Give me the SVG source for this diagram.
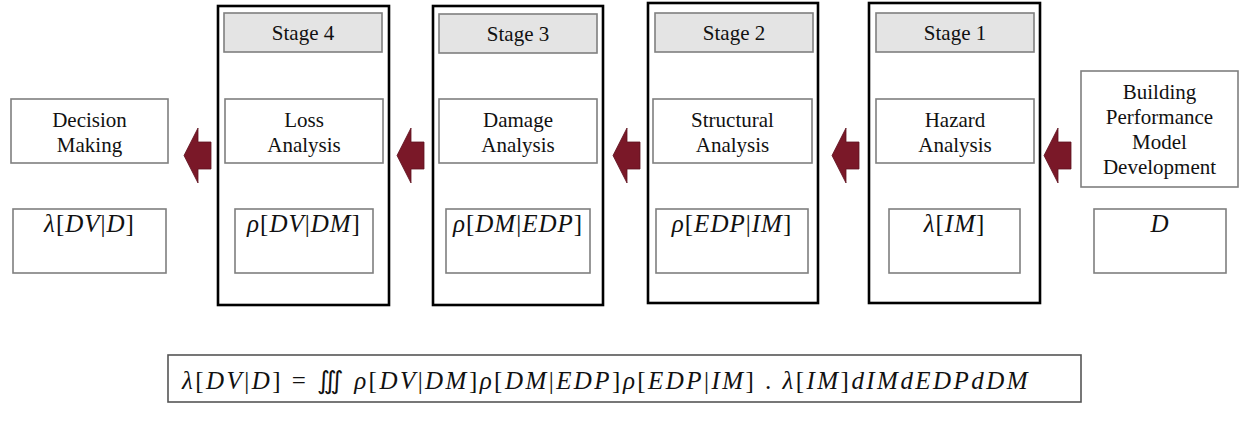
<svg xmlns="http://www.w3.org/2000/svg" width="1239" height="421" viewBox="0 0 1239 421" font-family="Liberation Serif, Times New Roman, serif">
  <style>
    .stage { fill: #ffffff; stroke: #000000; stroke-width: 2.6; }
    .head { fill: #e4e4e4; stroke: #7f7f7f; stroke-width: 1.6; }
    .box { fill: #ffffff; stroke: #7f7f7f; stroke-width: 1.6; }
    .lbl { font-size: 21px; fill: #111111; text-anchor: middle; }
    .math { font-style: italic; font-size: 25px; fill: #111111; text-anchor: middle; letter-spacing: 1px; }
    .eq { font-style: italic; font-size: 25px; fill: #111111; text-anchor: start; letter-spacing: 2.45px; }
    .up { font-style: normal; }
    .arrow { fill: #7a1828; stroke: #5e1120; stroke-width: 0.8; }
  </style>
  <defs>
    <!-- block arrow pointing left, tip at origin -->
    <path id="blockArrow" d="M0,0 L14,-27.5 L14,-13.5 L27,-13.5 L27,13.5 L14,13.5 L14,27.5 Z"/>
  </defs>
  <rect width="1239" height="421" fill="#ffffff"/>

  <!-- Decision making -->
  <g id="decision">
    <rect class="box" x="11" y="99" width="157" height="64"/>
    <text class="lbl" x="89.5" y="127">Decision</text>
    <text class="lbl" x="89.5" y="152">Making</text>
    <rect class="box" x="13" y="209" width="153" height="64"/>
    <text class="math" x="89.5" y="232">λ<tspan class="up">[</tspan>DV<tspan class="up">|</tspan>D<tspan class="up">]</tspan></text>
  </g>

  <!-- Stage 4 -->
  <g id="stage4">
    <rect class="stage" x="218" y="6" width="171" height="299"/>
    <rect class="head" x="224" y="13" width="158" height="39"/>
    <text class="lbl" x="303" y="40">Stage 4</text>
    <rect class="box" x="225" y="99" width="158" height="64"/>
    <text class="lbl" x="304" y="127">Loss</text>
    <text class="lbl" x="304" y="152">Analysis</text>
    <rect class="box" x="235" y="209" width="138" height="64"/>
    <text class="math" x="304" y="232">ρ<tspan class="up">[</tspan>DV<tspan class="up">|</tspan>DM<tspan class="up">]</tspan></text>
  </g>

  <!-- Stage 3 -->
  <g id="stage3">
    <rect class="stage" x="433" y="6" width="170" height="299"/>
    <rect class="head" x="439" y="14" width="158" height="39"/>
    <text class="lbl" x="518" y="41">Stage 3</text>
    <rect class="box" x="439" y="99" width="158" height="64"/>
    <text class="lbl" x="518" y="127">Damage</text>
    <text class="lbl" x="518" y="152">Analysis</text>
    <rect class="box" x="446" y="209" width="144" height="64"/>
    <text class="math" x="518" y="232">ρ<tspan class="up">[</tspan>DM<tspan class="up">|</tspan>EDP<tspan class="up">]</tspan></text>
  </g>

  <!-- Stage 2 -->
  <g id="stage2">
    <rect class="stage" x="648" y="3" width="170" height="300"/>
    <rect class="head" x="655" y="13" width="158" height="39"/>
    <text class="lbl" x="734" y="40">Stage 2</text>
    <rect class="box" x="653" y="99" width="159" height="64"/>
    <text class="lbl" x="732.5" y="127">Structural</text>
    <text class="lbl" x="732.5" y="152">Analysis</text>
    <rect class="box" x="656" y="209" width="152" height="64"/>
    <text class="math" x="732" y="232">ρ<tspan class="up">[</tspan>EDP<tspan class="up">|</tspan>IM<tspan class="up">]</tspan></text>
  </g>

  <!-- Stage 1 -->
  <g id="stage1">
    <rect class="stage" x="869" y="3" width="171" height="300"/>
    <rect class="head" x="876" y="13" width="158" height="39"/>
    <text class="lbl" x="955" y="40">Stage 1</text>
    <rect class="box" x="876" y="99" width="158" height="64"/>
    <text class="lbl" x="955" y="127">Hazard</text>
    <text class="lbl" x="955" y="152">Analysis</text>
    <rect class="box" x="889" y="209" width="131" height="64"/>
    <text class="math" x="954.5" y="232">λ<tspan class="up">[</tspan>IM<tspan class="up">]</tspan></text>
  </g>

  <!-- Building performance model -->
  <g id="building">
    <rect class="box" x="1081" y="71" width="157" height="116"/>
    <text class="lbl" x="1159.5" y="99">Building</text>
    <text class="lbl" x="1159.5" y="124">Performance</text>
    <text class="lbl" x="1159.5" y="149">Model</text>
    <text class="lbl" x="1159.5" y="174">Development</text>
    <rect class="box" x="1094" y="209" width="132" height="64"/>
    <text class="math" x="1160" y="232">D</text>
  </g>

  <!-- flow arrows -->
  <g id="connectors">
    <use href="#blockArrow" class="arrow" x="184" y="155.5"/>
    <use href="#blockArrow" class="arrow" x="397" y="155.5"/>
    <use href="#blockArrow" class="arrow" x="613" y="155.5"/>
    <use href="#blockArrow" class="arrow" x="832" y="155.5"/>
    <use href="#blockArrow" class="arrow" x="1044" y="155.5"/>
  </g>

  <!-- overall loss equation -->
  <g id="equation">
    <rect class="box" x="168" y="355" width="913" height="47" style="stroke:#555555"/>
    <text class="eq" x="182" y="389">λ<tspan class="up">[</tspan>DV<tspan class="up">|</tspan>D<tspan class="up">] = ∭ </tspan>ρ<tspan class="up">[</tspan>DV<tspan class="up">|</tspan>DM<tspan class="up">]</tspan>ρ<tspan class="up">[</tspan>DM<tspan class="up">|</tspan>EDP<tspan class="up">]</tspan>ρ<tspan class="up">[</tspan>EDP<tspan class="up">|</tspan>IM<tspan class="up">] . </tspan>λ<tspan class="up">[</tspan>IM<tspan class="up">]</tspan>dIMdEDPdDM</text>
  </g>
</svg>
